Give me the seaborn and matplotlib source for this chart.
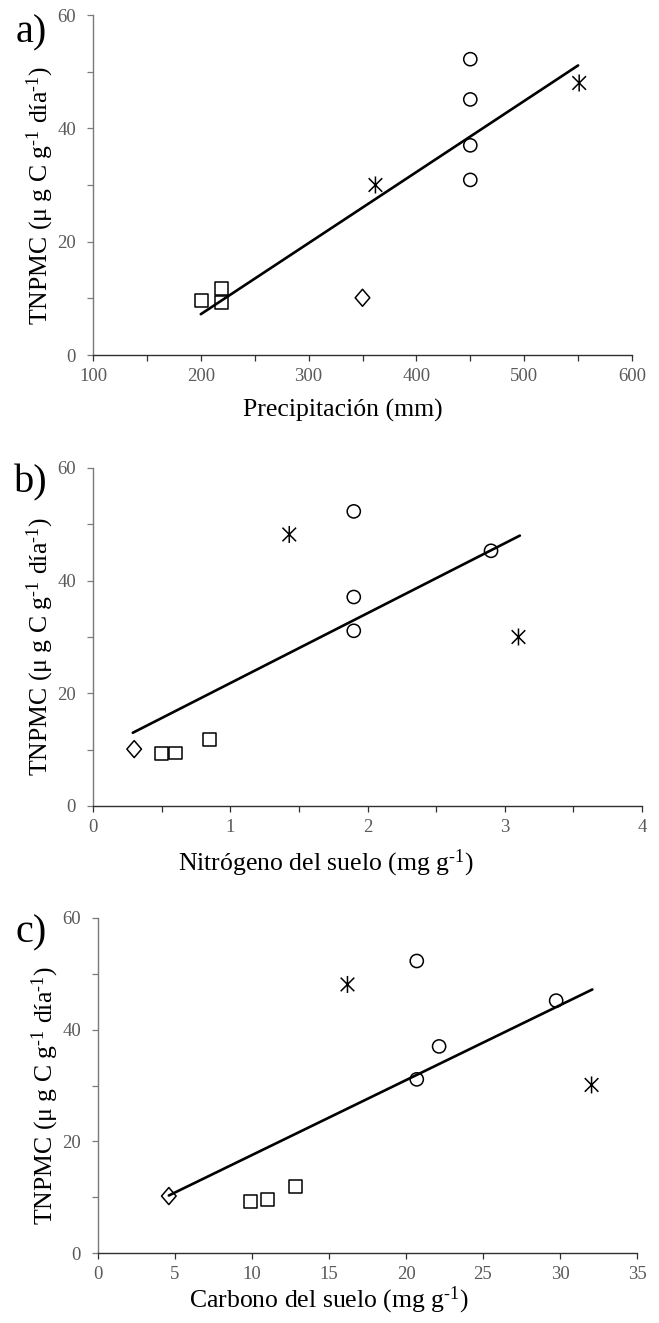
import numpy as np
import pandas as pd
import matplotlib
matplotlib.use("Agg")
import matplotlib.pyplot as plt
from matplotlib.path import Path
from matplotlib.ticker import MultipleLocator, NullFormatter
import seaborn as sns

sns.set_theme(style="white")
plt.rcParams['font.family'] = ['Liberation Serif', 'DejaVu Serif']
plt.rcParams['mathtext.fontset'] = 'custom'
plt.rcParams['mathtext.rm'] = 'Liberation Serif'
plt.rcParams['mathtext.it'] = 'Liberation Serif:italic'

# ---------------- data ----------------
groups = ["square", "square", "square", "diamond", "star", "star",
          "circle", "circle", "circle", "circle"]
tnpmc_a = [9.6, 11.8, 9.2, 10.1, 30.0, 48.0, 52.2, 45.1, 37.0, 30.9]
precip = [201, 219, 219, 350, 362, 551, 450, 450, 450, 450]

tnpmc_b = [9.25, 9.4, 11.8, 10.1, 30.0, 48.2, 52.3, 45.3, 37.1, 31.1]
nitrogen = [0.50, 0.60, 0.85, 0.30, 3.10, 1.43, 1.90, 2.90, 1.90, 1.90]

tnpmc_c = [9.2, 9.6, 11.9, 10.2, 30.1, 48.1, 52.3, 45.2, 37.0, 31.1]
carbon = [9.9, 11.0, 12.85, 4.6, 32.05, 16.2, 20.7, 29.75, 22.15, 20.7]

# regression line endpoints
line_a_x = [200, 550]
line_a_y = [7.2, 51.1]
line_b_x = [0.29, 3.11]
line_b_y = [13.0, 48.0]
line_c_x = [4.6, 32.1]
line_c_y = [10.3, 47.2]

panel_letters = ["a)", "b)", "c)"]
sup = r"$^{\mathregular{‐1}}$"
xlabels = ["Precipitación (mm)",
           "Nitrógeno del suelo (mg g" + sup + ")",
           "Carbono del suelo (mg g" + sup + ")"]
ylabel = "TNPMC (μ g C g" + sup + " día" + sup + ")"

# ---------------- markers ----------------
star_path = Path([(0, -1), (0, 1), (-0.8, -0.8), (0.8, 0.8),
                  (-0.8, 0.8), (0.8, -0.8)],
                 [Path.MOVETO, Path.LINETO, Path.MOVETO, Path.LINETO,
                  Path.MOVETO, Path.LINETO])
diamond_path = Path([(0, -1), (0.86, 0), (0, 1), (-0.86, 0), (0, -1)],
                    [Path.MOVETO, Path.LINETO, Path.LINETO, Path.LINETO,
                     Path.CLOSEPOLY])
marker_spec = {
    "square": dict(marker="s", s=85),
    "circle": dict(marker="o", s=90),
    "diamond": dict(marker=diamond_path, s=150),
    "star": dict(marker=star_path, s=150),
}

fig = plt.figure(figsize=(6.59, 13.23), dpi=100)
W, H = 659, 1323

def ax_rect(x0, x1, y0, y1):
    return [x0 / W, 1 - y1 / H, (x1 - x0) / W, (y1 - y0) / H]

rects = [ax_rect(93, 632, 15, 355),
         ax_rect(93, 642, 468, 806),
         ax_rect(98, 637, 918, 1253)]

panels = [
    (precip, tnpmc_a, line_a_x, line_a_y, (100, 600), 100, 50),
    (nitrogen, tnpmc_b, line_b_x, line_b_y, (0, 4), 1, 0.5),
    (carbon, tnpmc_c, line_c_x, line_c_y, (0, 35), 5, 5),
]
xlabel_pos = [(0.464, -0.128), (0.424, -0.122), (0.429, -0.095)]
letter_pos = [(31, 33), (31, 483), (31, 933)]

tick_color = "#5a5a5a"

for i, (xv, yv, lx, ly, xlim, xmaj, xmin) in enumerate(panels):
    ax = fig.add_axes(rects[i])
    df = pd.DataFrame({"x": xv, "y": yv, "g": groups})
    ldf = pd.DataFrame({"x": lx, "y": ly})
    sns.lineplot(data=ldf, x="x", y="y", ax=ax, color="black",
                 linewidth=1.9, zorder=2)
    for g, spec in marker_spec.items():
        sub = df[df["g"] == g]
        sns.scatterplot(data=sub, x="x", y="y", ax=ax,
                        facecolor="none", edgecolor="black",
                        linewidth=1.1, zorder=3, **spec)
    ax.set_xlim(*xlim)
    ax.set_ylim(0, 60)
    ax.xaxis.set_major_locator(MultipleLocator(xmaj))
    ax.xaxis.set_minor_locator(MultipleLocator(xmin))
    ax.xaxis.set_minor_formatter(NullFormatter())
    ax.yaxis.set_major_locator(MultipleLocator(20))
    ax.yaxis.set_minor_locator(MultipleLocator(10))
    ax.yaxis.set_minor_formatter(NullFormatter())
    for sp in ["top", "right"]:
        ax.spines[sp].set_visible(False)
    ax.spines["left"].set_color("#7a7a7a")
    ax.spines["bottom"].set_color("#303030")
    ax.spines["left"].set_linewidth(1.0)
    ax.spines["bottom"].set_linewidth(1.0)
    ax.tick_params(axis="x", which="both", direction="out", bottom=True,
                   length=4.3, width=0.9, color="#303030",
                   labelcolor=tick_color, labelsize=13.5, pad=5)
    ax.tick_params(axis="y", which="both", direction="out", left=True,
                   length=4.3, width=0.9, color="#7a7a7a",
                   labelcolor=tick_color, labelsize=13.5, pad=8)
    ax.set_xlabel(xlabels[i], fontsize=18.5, color="black")
    ax.set_ylabel(ylabel, fontsize=18.5, color="black")
    ax.xaxis.set_label_coords(*xlabel_pos[i])
    ax.yaxis.set_label_coords(-0.068, 0.47)
    ax.grid(False)
    fig.text(letter_pos[i][0] / W, 1 - letter_pos[i][1] / H, panel_letters[i],
             fontsize=29, ha="center", va="center", color="black")

fig.savefig("out.png", dpi=100)
